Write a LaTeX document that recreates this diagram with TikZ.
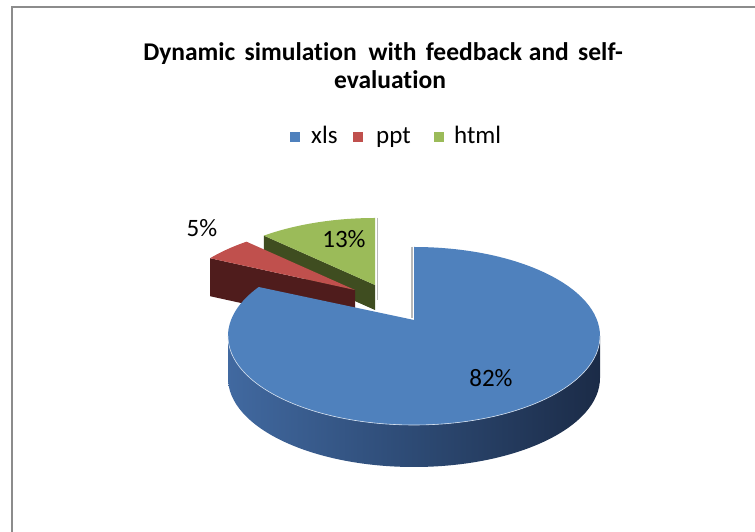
\documentclass[tikz,border=0pt]{standalone}
\usepackage{fontspec}
\setmainfont{Carlito}[Ligatures=NoCommon]
\definecolor{blueTop}{HTML}{4F81BD}
\definecolor{blueSideL}{HTML}{4169A0}
\definecolor{blueSideM}{HTML}{2D4A74}
\definecolor{blueSideR}{HTML}{1B2B47}
\definecolor{redTop}{HTML}{C0504D}
\definecolor{redSide}{HTML}{4F1C1C}
\definecolor{greenTop}{HTML}{9BBB59}
\definecolor{greenSide}{HTML}{3F4D20}
\definecolor{frameGray}{HTML}{8C8C8C}
\newcommand\wsp{\hspace{9.3pt}}
\tikzset{
  lbl/.style={anchor=base, inner sep=0pt, font=\fontsize{25}{30}\selectfont, text=black},
  ttl/.style={anchor=base, inner sep=0pt, font=\fontsize{25.5}{30}\selectfont\bfseries, text=black},
  leg/.style={anchor=base west, inner sep=0pt, font=\fontsize{25}{28}\selectfont, text=black},
  legsq/.style={minimum size=10pt, inner sep=0pt, anchor=south west},
  rim/.style={white!75!blueTop, line width=0.6pt},
  edgeshade/.style={gray!55, line width=1.4pt}
}
\begin{document}
\begin{tikzpicture}[x=1pt,y=1pt]
\useasboundingbox (0,0) rectangle (755,532);
\clip (0,0) rectangle (755,532);
\fill[white] (0,0) rectangle (755,532);
% frame
\draw[frameGray, line width=2pt] (12,-5) -- (12,525) -- (765,525);
% title
\node[ttl] (t1) at (383,471) {Dynamic\wsp simulation\hspace{12pt}with\wsp feedback\hspace{7pt}and\wsp self-};
\node[ttl] (t2) at (390,443) {evaluation};
% legend
\node[legsq, fill=blueTop] (sq1) at (290,390) {};
\node[leg] (l1) at (311,388) {xls};
\node[legsq, fill=redTop] (sq2) at (353,390) {};
\node[leg] (l2) at (376,388) {ppt};
\node[legsq, fill=greenTop] (sq3) at (434,390) {};
\node[leg] (l3) at (454,388) {html};
% green slice (html, 13%)
\fill[greenSide] (263.8,296.4) -- (375,247) -- (375,222) -- (263.8,271.4) -- cycle;
\draw[edgeshade] (377.5,314) -- (377.5,232);
\fill[greenTop] (375,247) -- (375,314) arc[start angle=90, end angle=126.7, x radius=186, y radius=89] -- cycle;
% red slice (ppt, 5%)
\fill[redSide] (210,273.8) -- (355,242) -- (355,204) -- (210,235.8) -- cycle;
\fill[redTop] (355,242) -- (246.5,290.3) arc[start angle=125.7, end angle=141.2, x radius=186, y radius=89] -- cycle;
% blue slice (xls, 82%)
\draw[edgeshade] (412,285) -- (412,214);
\shade[left color=blueSideL, right color=blueSideR, middle color=blueSideM]
  (228,196) arc[start angle=180, end angle=360, x radius=186, y radius=89]
  -- (600,154) arc[start angle=0, end angle=-180, x radius=186, y radius=89] -- cycle;
\fill[blueTop] (414,212) -- (414,285) arc[start angle=90, end angle=-213.4, x radius=186, y radius=89] -- cycle;
\draw[rim] (228,196) arc[start angle=180, end angle=360, x radius=186, y radius=89];
% data labels
\node[lbl] (p82) at (491,145) {82\%};
\node[lbl] (p13) at (344,284) {13\%};
\node[lbl] (p5) at (202,295) {5\%};
\end{tikzpicture}
\end{document}
